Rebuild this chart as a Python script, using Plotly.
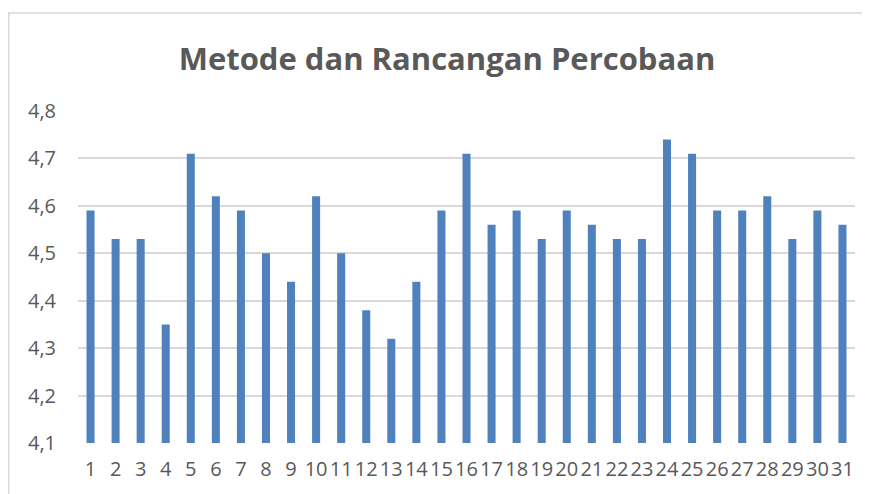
import plotly.graph_objects as go

categories = [str(i) for i in range(1, 32)]
values = [4.59, 4.53, 4.53, 4.35, 4.71, 4.62, 4.59, 4.50, 4.44, 4.62,
          4.50, 4.38, 4.32, 4.44, 4.59, 4.71, 4.56, 4.59, 4.53, 4.59,
          4.56, 4.53, 4.53, 4.74, 4.71, 4.59, 4.59, 4.62, 4.53, 4.59, 4.56]
y_ticks = [4.1, 4.2, 4.3, 4.4, 4.5, 4.6, 4.7, 4.8]
y_ticklabels = ["4,1", "4,2", "4,3", "4,4", "4,5", "4,6", "4,7", "4,8"]
title = "Metode dan Rancangan Percobaan"

# page body has an 8px margin; figure occupies 8..870 x 8..494
W, H = 862, 486
ml, mr, mt, mb = 70, 15, 103, 51
pw, ph = W - ml - mr, H - mt - mb

fig = go.Figure(go.Bar(x=categories, y=values, marker=dict(color="#4F81BD", line=dict(width=0)),
                       base=0))

fig.update_layout(
    width=W, height=H,
    margin=dict(l=ml, r=mr, t=mt, b=mb),
    paper_bgcolor="white", plot_bgcolor="white",
    bargap=0.68,
    showlegend=False,
    title=dict(text=title, x=(439 - ml) / pw, xref="paper", xanchor="center",
               y=1 - 51 / H, yanchor="middle",
               font=dict(family="Open Sans", size=31, color="#595959", weight="bold")),
    font=dict(family="Open Sans", color="#595959", size=20),
    xaxis=dict(type="category", showgrid=False, showline=False, ticks="",
               tickfont=dict(size=20, color="#595959"), ticklabelstandoff=12, tickangle=0),
    yaxis=dict(range=[4.1, 4.8], tickvals=y_ticks, ticktext=y_ticklabels,
               showgrid=True, gridcolor="#D9D9D9", gridwidth=2, zeroline=False,
               showline=False, ticks="", tickfont=dict(size=20, color="#595959"),
               ticklabelstandoff=21),
    shapes=[dict(type="rect", xref="paper", yref="paper",
                 x0=(0.75 - ml) / pw, x1=(W + 20 - ml) / pw,
                 y0=(-40 - mb) / ph, y1=(H - mb - 5) / ph,
                 line=dict(color="#D9D9D9", width=1.5), fillcolor="rgba(0,0,0,0)", layer="below")],
)

fig.write_html("out.html")
